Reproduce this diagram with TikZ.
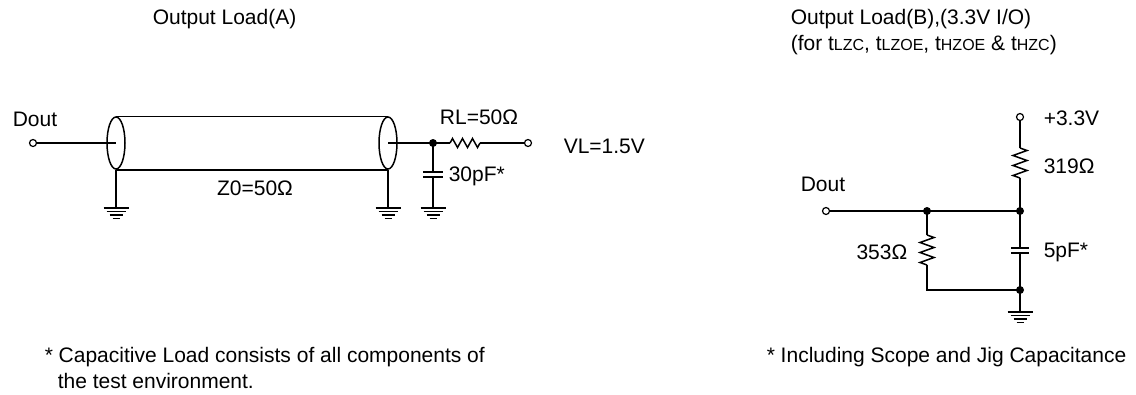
\documentclass[tikz,border=0pt]{standalone}
\usepackage{fontspec}
\setmainfont{Liberation Sans}
\usetikzlibrary{shapes.geometric,decorations.pathmorphing}

\newcommand\indice[1]{{\fontsize{16}{18}\selectfont #1}}

\begin{document}
\begin{tikzpicture}[x=1pt,y=-1pt,line width=1.5pt,
  txt/.style={font=\fontsize{21}{25}\selectfont,inner sep=0pt},
  borne/.style={draw,circle,fill=white,line width=1.2pt,inner sep=0pt,minimum size=7pt},
  noeud/.style={fill,circle,inner sep=0pt,minimum size=8pt},
  tube/.style={draw,ellipse,inner sep=0pt,minimum width=18pt,minimum height=52pt},
  resh/.style={decorate,decoration={zigzag,amplitude=4.5pt,segment length=10pt}},
  resv/.style={decorate,decoration={zigzag,amplitude=7pt,segment length=10pt}}]

\useasboundingbox (0,0) rectangle (1136,394) ;

% titres

\node[txt,anchor=west] (titreA) at (152,19) {Output Load(A)} ;
\node[txt,anchor=west] (titreB) at (790,19) {Output Load(B),(3.3V I/O)} ;
\node[txt,anchor=west] (titreB2) at (790,45) {(for t\indice{LZC}, t\indice{LZOE}, t\indice{HZOE} \& t\indice{HZC})} ;

% charge A : ligne coaxiale

\node[borne] (dA) at (33,143) {} ;
\node[tube] (ellA) at (116,143) {} ;
\node[tube] (ellB) at (388,143) {} ;
\node[noeud] (jA) at (433,143) {} ;
\coordinate (rA1) at (450,143) ;
\coordinate (rA2) at (480,143) ;
\node[borne] (vA) at (528,143) {} ;

\draw (dA) -- (ellA.center) ;
\draw (ellA.north) -- (ellB.north) ;
\draw (ellA.south) -- (ellB.south) ;
\draw (ellB.center) -- (jA.center) -- (rA1) ;
\draw[resh] (rA1) -- (rA2) ;
\draw (rA2) -- (vA) ;

% charge A : condensateur et masses

\coordinate (cA1) at (433,172) ;
\coordinate (cA2) at (433,177) ;
\coordinate (gA1) at (116,208) ;
\coordinate (gA2) at (388,208) ;
\coordinate (gA3) at (433,208) ;

\draw (jA.center) -- (cA1) ;
\draw ([xshift=-10pt]cA1) -- ([xshift=10pt]cA1) ;
\draw ([xshift=-10pt]cA2) -- ([xshift=10pt]cA2) ;
\draw (cA2) -- (gA3) ;
\draw (ellA.south) -- (gA1) ;
\draw (ellB.south) -- (gA2) ;

\node[txt] (lDA) at (35,119) {Dout} ;
\node[txt] (lZ) at (255,188) {Z0=50Ω} ;
\node[txt] (lRL) at (479,117) {RL=50Ω} ;
\node[txt,anchor=west] (lCA) at (448,176) {30pF*} ;
\node[txt,anchor=west] (lVL) at (563,146) {VL=1.5V} ;

% charge B

\node[borne] (vcc) at (1020,117) {} ;
\coordinate (rB1) at (1020,148) ;
\coordinate (rB2) at (1020,178) ;
\node[noeud] (jB2) at (1020,211) {} ;
\node[noeud] (jB1) at (927,211) {} ;
\node[borne] (dB) at (826,211) {} ;
\coordinate (rC1) at (927,235) ;
\coordinate (rC2) at (927,265) ;
\coordinate (cB1) at (1020,248) ;
\coordinate (cB2) at (1020,253) ;
\node[noeud] (jB3) at (1020,290) {} ;
\coordinate (gB) at (1020,312) ;

\draw (vcc) -- (rB1) ;
\draw[resv] (rB1) -- (rB2) ;
\draw (rB2) -- (jB2.center) ;
\draw (dB) -- (jB2.center) ;
\draw (jB1.center) -- (rC1) ;
\draw[resv] (rC1) -- (rC2) ;
\draw (rC2) |- (jB3.center) ;
\draw (jB2.center) -- (cB1) ;
\draw ([xshift=-9pt]cB1) -- ([xshift=9pt]cB1) ;
\draw ([xshift=-9pt]cB2) -- ([xshift=9pt]cB2) ;
\draw (cB2) -- (jB3.center) -- (gB) ;

\node[txt,anchor=west] (lvcc) at (1043,118) {+3.3V} ;
\node[txt,anchor=west] (lR1) at (1043,166) {319Ω} ;
\node[txt,anchor=west] (lCB) at (1043,252) {5pF*} ;
\node[txt,anchor=east] (lR2) at (908,252) {353Ω} ;
\node[txt] (lDB) at (823,184) {Dout} ;

% symboles de masse

\foreach \g in {gA1,gA2,gA3,gB} {
  \draw ([xshift=-12.5pt]\g) -- ([xshift=12.5pt]\g) ;
  \draw ([xshift=-9.5pt,yshift=-3.5pt]\g) -- ([xshift=9.5pt,yshift=-3.5pt]\g) ;
  \draw ([xshift=-6.5pt,yshift=-7pt]\g) -- ([xshift=6.5pt,yshift=-7pt]\g) ;
  \draw ([xshift=-3.5pt,yshift=-10.5pt]\g) -- ([xshift=3.5pt,yshift=-10.5pt]\g) ;
}

% notes

\node[txt,anchor=west] (noteA) at (44,357) {* Capacitive Load consists of all components of} ;
\node[txt,anchor=west] (noteA2) at (57,381) {the test environment.} ;
\node[txt,anchor=west] (noteB) at (766,357) {* Including Scope and Jig Capacitance} ;

\end{tikzpicture}
\end{document}
